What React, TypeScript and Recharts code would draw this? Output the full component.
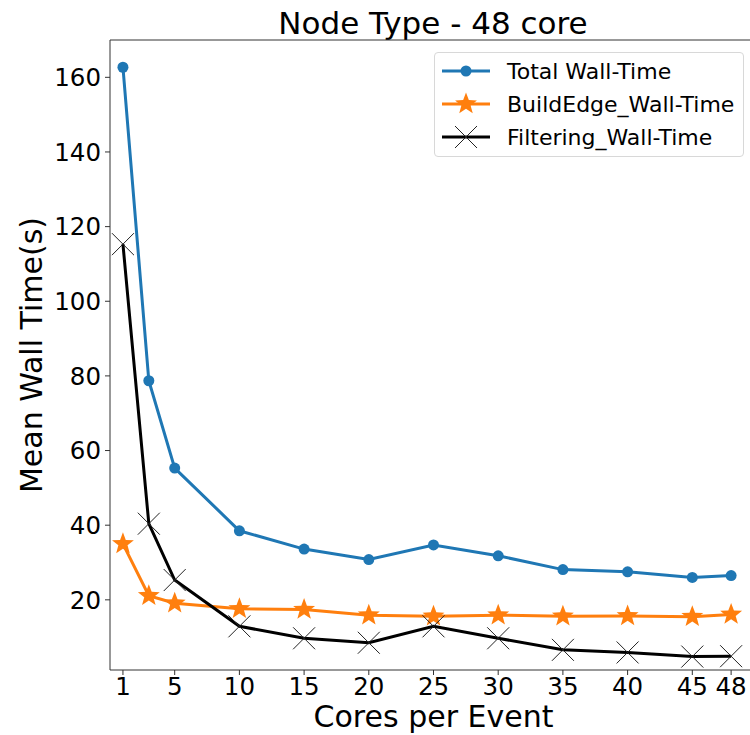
import React from "react";
import {
  LineChart,
  Line,
  XAxis,
  YAxis,
  Legend,
  ReferenceLine,
} from "recharts";

const CORES = [1, 3, 5, 10, 15, 20, 25, 30, 35, 40, 45, 48];
const TOTAL = [162.7, 78.7, 55.3, 38.5, 33.6, 30.8, 34.7, 31.8, 28.1, 27.5, 26.0, 26.5];
const BUILD_EDGE = [35.0, 21.1, 19.1, 17.6, 17.4, 15.9, 15.6, 15.9, 15.6, 15.7, 15.5, 16.1];
const FILTERING = [115.3, 40.4, 25.3, 12.9, 9.7, 8.5, 12.9, 9.7, 6.6, 5.9, 4.8, 4.9];
const X_TICKS = [1, 5, 10, 15, 20, 25, 30, 35, 40, 45, 48];
const Y_TICKS = [20, 40, 60, 80, 100, 120, 140, 160];

const SERIES_NAMES = ["Total Wall-Time", "BuildEdge_Wall-Time", "Filtering_Wall-Time"];

const BLUE = "#1f77b4";
const ORANGE = "#ff7f0e";
const FONT = "'DejaVu Sans', sans-serif";

const data = CORES.map((c, i) => ({
  cores: c,
  total: TOTAL[i],
  buildEdge: BUILD_EDGE[i],
  filtering: FILTERING[i],
}));

function starPath(cx: number, cy: number, R: number) {
  const r = R * 0.42;
  let d = "";
  for (let k = 0; k < 10; k++) {
    const rad = k % 2 === 0 ? R : r;
    const a = -Math.PI / 2 + (k * Math.PI) / 5;
    d += (k === 0 ? "M" : "L") + (cx + rad * Math.cos(a)).toFixed(2) + "," + (cy + rad * Math.sin(a)).toFixed(2);
  }
  return d + "Z";
}

const CircleDot = (p: any) => (
  <circle key={`c-${p.index}`} cx={p.cx} cy={p.cy} r={5.5} fill={BLUE} />
);

const StarDot = (p: any) => (
  <path key={`s-${p.index}`} d={starPath(p.cx, p.cy, 11.5)} fill={ORANGE} />
);

const CrossDot = (p: any) => (
  <g key={`x-${p.index}`} stroke="#222" strokeWidth={1}>
    <line x1={p.cx - 11} y1={p.cy - 11} x2={p.cx + 11} y2={p.cy + 11} />
    <line x1={p.cx - 11} y1={p.cy + 11} x2={p.cx + 11} y2={p.cy - 11} />
  </g>
);

// tick label renderers so the font size is applied directly
const XTick = (p: any) => (
  <text
    x={p.x}
    y={p.y}
    dy="0.71em"
    textAnchor="middle"
    fontSize={24.5}
    fontFamily={FONT}
    fill="#000"
  >
    {p.payload.value}
  </text>
);

const YTick = (p: any) => (
  <text
    x={p.x}
    y={p.y}
    dy="0.355em"
    textAnchor="end"
    fontSize={24.5}
    fontFamily={FONT}
    fill="#000"
  >
    {p.payload.value}
  </text>
);

function LegendBox() {
  const rows = [
    { color: BLUE, marker: (x: number, y: number) => <circle cx={x} cy={y} r={5.5} fill={BLUE} /> },
    { color: ORANGE, marker: (x: number, y: number) => <path d={starPath(x, y, 11.5)} fill={ORANGE} /> },
    {
      color: "#000",
      marker: (x: number, y: number) => (
        <g stroke="#222" strokeWidth={1}>
          <line x1={x - 11} y1={y - 11} x2={x + 11} y2={y + 11} />
          <line x1={x - 11} y1={y + 11} x2={x + 11} y2={y - 11} />
        </g>
      ),
    },
  ];
  return (
    <div
      style={{
        width: 310,
        height: 105,
        border: "1px solid #d8d8d8",
        borderRadius: 4,
        background: "rgba(255,255,255,0.8)",
        boxSizing: "border-box",
        position: "relative",
        fontFamily: FONT,
      }}
    >
      {rows.map((row, i) => (
        <div
          key={i}
          style={{ position: "absolute", left: 6, top: 6 + i * 33, height: 24, display: "flex", alignItems: "center" }}
        >
          <svg width={50} height={26}>
            <line x1={1} y1={13} x2={49} y2={13} stroke={row.color} strokeWidth={3} />
            {row.marker(25, 13)}
          </svg>
          <span style={{ marginLeft: 16, fontSize: 22, color: "#000", whiteSpace: "nowrap" }}>
            {SERIES_NAMES[i]}
          </span>
        </div>
      ))}
    </div>
  );
}

export default function App() {
  return (
    <div
      style={{
        position: "absolute",
        left: 0,
        top: 0,
        width: 750,
        height: 735,
        overflow: "hidden",
        background: "#fff",
        fontFamily: FONT,
      }}
    >
      <div
        style={{
          position: "absolute",
          left: 0,
          width: 866,
          top: 5,
          textAlign: "center",
          fontSize: 31,
          color: "#000",
          whiteSpace: "nowrap",
        }}
      >
        Node Type - 48 core
      </div>
      <LineChart
        width={770}
        height={735}
        data={data}
        margin={{ top: 40, right: 13, left: 0, bottom: 0 }}
        style={{ position: "absolute", left: 0, top: 0 }}
      >
        <XAxis
          dataKey="cores"
          type="number"
          domain={[0, 50]}
          ticks={X_TICKS}
          allowDataOverflow
          height={65}
          tickSize={5}
          tickMargin={3}
          stroke="#333"
          tick={XTick}
          label={{
            value: "Cores per Event",
            position: "insideBottom",
            offset: 8,
            style: { fontSize: 30, fill: "#000", fontFamily: FONT },
          }}
        />
        <YAxis
          type="number"
          domain={[1.2, 170]}
          ticks={Y_TICKS}
          allowDataOverflow
          width={110}
          tickSize={5}
          tickMargin={4}
          stroke="#333"
          tick={YTick}
          label={{
            value: "Mean Wall Time(s)",
            angle: -90,
            position: "insideLeft",
            offset: 31,
            textAnchor: "middle",
            style: { fontSize: 30, fill: "#000", fontFamily: FONT, textAnchor: "middle" },
          }}
        />
        <ReferenceLine y={170} stroke="#333" strokeWidth={1} />
        <Line
          dataKey="total"
          name={SERIES_NAMES[0]}
          stroke={BLUE}
          strokeWidth={3}
          dot={CircleDot}
          activeDot={false}
          isAnimationActive={false}
        />
        <Line
          dataKey="buildEdge"
          name={SERIES_NAMES[1]}
          stroke={ORANGE}
          strokeWidth={3}
          dot={StarDot}
          activeDot={false}
          isAnimationActive={false}
        />
        <Line
          dataKey="filtering"
          name={SERIES_NAMES[2]}
          stroke="#000"
          strokeWidth={3}
          dot={CrossDot}
          activeDot={false}
          isAnimationActive={false}
        />
        <Legend
          layout="horizontal"
          verticalAlign="middle"
          align="center"
          width={312}
          wrapperStyle={{ left: 434, top: 52, right: "auto", bottom: "auto" }}
          content={() => <LegendBox />}
        />
      </LineChart>
    </div>
  );
}
